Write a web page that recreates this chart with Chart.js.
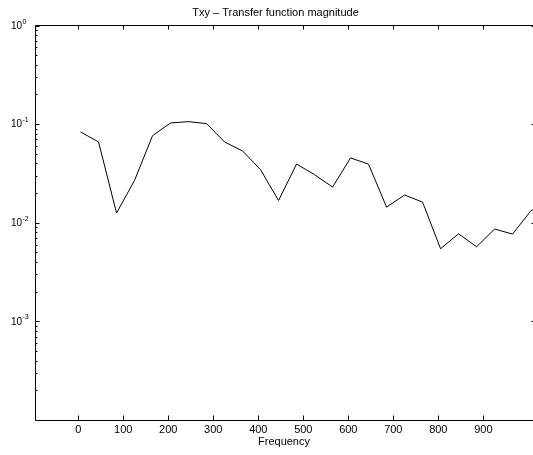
<!DOCTYPE html>
<html>
<head>
<meta charset="utf-8">
<script src="https://cdn.jsdelivr.net/npm/chart.js@4/dist/chart.umd.min.js"></script>
<style>
  html, body { margin: 0; padding: 0; overflow: hidden; background: #fff; }
  canvas { display: block; }
</style>
</head>
<body>
<canvas id="c" width="533" height="455"></canvas>
<script>
// Transfer function magnitude estimate |Txy| against frequency
const frequency = [5, 45, 85, 125, 165, 205, 245, 285, 325, 365, 405, 445, 485, 525,
                   565, 605, 645, 685, 725, 765, 805, 845, 885, 925, 965, 1005, 1045];
const magnitude = [0.0833, 0.0660, 0.01254, 0.0269, 0.0764, 0.1028, 0.1060, 0.1012,
                   0.0660, 0.0534, 0.0345, 0.0168, 0.0394, 0.0307, 0.0230, 0.0454,
                   0.0393, 0.0144, 0.0191, 0.0162, 0.00545, 0.00773, 0.00571, 0.00863,
                   0.00768, 0.01309, 0.0171];

const xTickValues = [0, 100, 200, 300, 400, 500, 600, 700, 800, 900];
const yDecades = [1, 0.1, 0.01, 0.001, 0.0001];
const yDecadeLabels = ['0', '-1', '-2', '-3', null];

const titleText = 'Txy \u2013 Transfer function magnitude';
const xLabel = 'Frequency';

// the axes box closes at this frequency, just past the right edge of the canvas
const xBoxEnd = 1017;

const FONT = '"Liberation Sans", Arial, Helvetica, sans-serif';

// MATLAB-style box with inward ticks and 10^n labels on the log axis
const boxAxes = {
  id: 'boxAxes',
  afterDraw(chart) {
    const ctx = chart.ctx;
    const xs = chart.scales.x;
    const ys = chart.scales.y;
    const a = chart.chartArea;
    const L = Math.round(a.left) + 0.5;
    const R = Math.round(xs.getPixelForValue(xBoxEnd)) - 0.5;
    const T = Math.round(a.top) - 0.5;
    const B = Math.round(a.bottom) + 0.5;

    ctx.save();
    ctx.strokeStyle = '#000';
    ctx.lineWidth = 1;
    ctx.beginPath();
    ctx.moveTo(L, T); ctx.lineTo(R, T); ctx.lineTo(R, B); ctx.lineTo(L, B); ctx.closePath();

    // x ticks, top and bottom
    xTickValues.forEach(v => {
      const px = Math.round(xs.getPixelForValue(v)) + 0.5;
      ctx.moveTo(px, B); ctx.lineTo(px, B - 5);
      ctx.moveTo(px, T); ctx.lineTo(px, T + 4);
    });

    // y major and minor ticks, left and right
    yDecades.forEach(d => {
      const py = Math.round(ys.getPixelForValue(d)) + 0.5;
      ctx.moveTo(L, py); ctx.lineTo(L + 4, py);
      ctx.moveTo(R, py); ctx.lineTo(R - 4, py);
      if (d < 1) {
        for (let m = 2; m <= 9; m++) {
          const pm = Math.round(ys.getPixelForValue(d * m)) + 0.5;
          ctx.moveTo(L, pm); ctx.lineTo(L + 2, pm);
          ctx.moveTo(R, pm); ctx.lineTo(R - 2, pm);
        }
      }
    });
    ctx.stroke();

    // decade labels: "10" with a raised exponent
    ctx.fillStyle = '#000';
    yDecades.forEach((d, i) => {
      const exp = yDecadeLabels[i];
      if (exp === null) return;
      const py = ys.getPixelForValue(d);
      ctx.font = '10px ' + FONT;
      ctx.textAlign = 'left';
      ctx.textBaseline = 'middle';
      ctx.fillText('10', 11, py + 0.5);
      ctx.font = '7px ' + FONT;
      ctx.textBaseline = 'alphabetic';
      ctx.fillText(exp, 22.5, py - 2);
    });
    ctx.restore();
  }
};

const points = frequency.map((f, i) => ({ x: f, y: magnitude[i] }));

new Chart(document.getElementById('c'), {
  type: 'line',
  data: {
    datasets: [{
      data: points,
      borderColor: '#000',
      borderWidth: 1,
      pointRadius: 0,
      tension: 0,
      fill: false
    }]
  },
  options: {
    responsive: false,
    animation: false,
    devicePixelRatio: 1,
    layout: { padding: { left: 18, right: 0, top: 0, bottom: 0 } },
    plugins: {
      legend: { display: false },
      tooltip: { enabled: false },
      title: {
        display: true,
        text: titleText,
        color: '#000',
        font: { family: FONT, size: 11, weight: 'normal' },
        padding: { top: 6, bottom: 6.3 }
      }
    },
    scales: {
      x: {
        type: 'linear',
        min: -96.2,
        max: 1010.4,
        grid: { display: false, drawTicks: false },
        border: { display: false },
        afterBuildTicks(scale) {
          scale.ticks = xTickValues.map(v => ({ value: v }));
        },
        afterFit(scale) { scale.height = 35; },
        ticks: {
          color: '#000',
          padding: 3,
          maxRotation: 0,
          autoSkip: false,
          font: { family: FONT, size: 11 },
          callback: v => String(v)
        },
        title: {
          display: true,
          text: xLabel,
          color: '#000',
          font: { family: FONT, size: 11 },
          padding: { top: 0, bottom: 6 }
        }
      },
      y: {
        type: 'logarithmic',
        min: 0.0001,
        max: 1,
        grid: { display: false, drawTicks: false },
        border: { display: false },
        ticks: { display: false },
        afterFit(scale) { scale.width = 17; }
      }
    }
  },
  plugins: [boxAxes]
});
</script>
</body>
</html>
